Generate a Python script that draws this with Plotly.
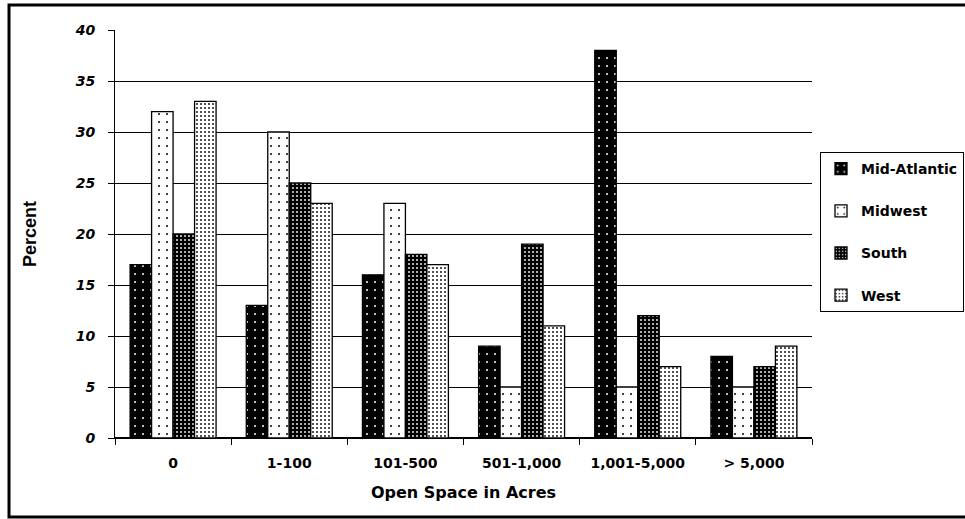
import plotly.graph_objects as go

categories = ["0", "1-100", "101-500", "501-1,000", "1,001-5,000", "> 5,000"]
mid_atlantic = [17, 13, 16, 9, 38, 8]
midwest = [32, 30, 23, 5, 5, 5]
south = [20, 25, 18, 19, 12, 7]
west = [33, 23, 17, 11, 7, 9]

series = [
    ("Mid-Atlantic", mid_atlantic, dict(shape=".", bgcolor="black", fgcolor="white", size=8, solidity=0.05)),
    ("Midwest", midwest, dict(shape=".", bgcolor="white", fgcolor="black", size=8, solidity=0.05)),
    ("South", south, dict(shape=".", bgcolor="black", fgcolor="white", size=4, solidity=0.16)),
    ("West", west, dict(shape=".", bgcolor="white", fgcolor="black", size=4, solidity=0.16)),
]

BOLD = "DejaVu Sans, Arial, sans-serif"
ARIAL = "Liberation Sans, Arial, sans-serif"

fig = go.Figure()
for name, vals, pat in series:
    fig.add_trace(go.Bar(
        x=categories, y=vals, name=name, legendgroup=name,
        marker=dict(color=pat["bgcolor"], pattern=dict(fillmode="replace", **pat),
                    line=dict(color="black", width=1.3)),
    ))

ml, mr, mt, mb = 115, 153, 30, 81
W, H = 965, 519
pw, ph = W - ml - mr, H - mt - mb

def px_x(p):
    return (p - ml) / pw

def px_y(p):
    return (H - mb - p) / ph

# outer frame around the whole chart
fig.add_shape(type="rect", xref="paper", yref="paper",
              x0=px_x(9), x1=px_x(990), y0=px_y(517), y1=px_y(5),
              line=dict(color="black", width=3), layer="below")

fig.update_layout(
    width=W, height=H,
    margin=dict(l=ml, r=mr, t=mt, b=mb, autoexpand=False),
    paper_bgcolor="white", plot_bgcolor="white",
    barmode="group", bargap=0.26, bargroupgap=0,
    font=dict(family=BOLD, color="black"),
    showlegend=True,
    legend=dict(
        x=px_x(820), y=px_y(152), xanchor="left", yanchor="top",
        bordercolor="black", borderwidth=1, bgcolor="white",
        font=dict(size=14, family=BOLD, weight="bold"),
        traceorder="grouped", tracegroupgap=21,
        itemwidth=30,
    ),
    xaxis=dict(
        title=dict(text="Open Space in Acres", font=dict(size=16, weight="bold"), standoff=17),
        tickfont=dict(size=14, weight="bold"),
        ticklabelstandoff=12,
        ticks="outside", tickson="boundaries", ticklen=6, tickcolor="black",
        showline=True, linecolor="black", linewidth=1,
        showgrid=False,
    ),
    yaxis=dict(
        title=dict(text="Percent", font=dict(size=18, family=ARIAL, weight="bold"), standoff=33),
        range=[0, 40], dtick=5,
        tickfont=dict(size=14, weight="bold", style="italic"),
        ticklabelstandoff=10,
        ticks="outside", ticklen=6, tickcolor="black",
        showline=True, linecolor="black", linewidth=1,
        showgrid=True, gridcolor="black", gridwidth=1,
        zeroline=True, zerolinecolor="black",
    ),
)

fig.write_html("out.html")
